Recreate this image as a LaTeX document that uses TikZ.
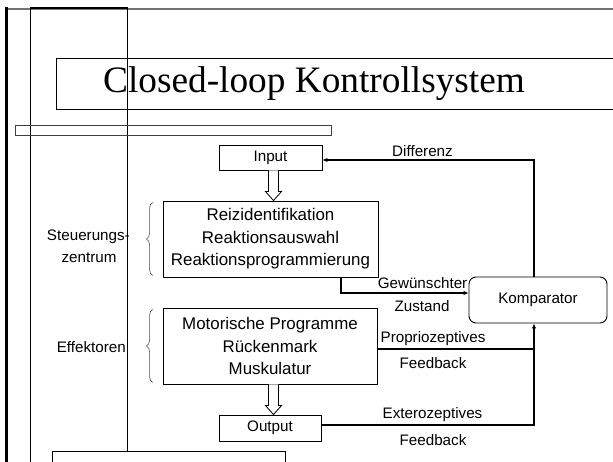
\documentclass[tikz,border=0pt]{standalone}
\usepackage{fontspec}
\setmainfont{Liberation Serif}
\setsansfont{Liberation Sans}
\usetikzlibrary{calc,arrows.meta,decorations.pathreplacing}
\begin{document}
\begin{tikzpicture}[x=1pt,y=-1pt,
  box/.style={draw,line width=0.9pt,font=\sffamily\fontsize{16.9}{22.5}\selectfont,align=center,inner sep=0pt},
  small/.style={draw,line width=0.9pt,font=\sffamily\fontsize{15.2}{18}\selectfont,inner sep=0pt},
  lab/.style={font=\sffamily\fontsize{15.2}{18}\selectfont,inner sep=0pt},
  fb/.style={line width=1.6pt},
  tip/.style={-{Latex[length=5pt,width=4.5pt]}},
  hollow/.style={draw,line width=0.8pt,fill=white},
  brc/.style={decorate,decoration={brace,amplitude=6pt},line width=0.6pt,black!70},
  frame/.style={line width=0.8pt}]
\useasboundingbox (0,0) rectangle (613,462);
\clip (0,0) rectangle (613,462);
% frame lines
\draw[line width=2.5pt,black!55] (6,9) -- (613,9);
\draw[line width=2.5pt] (30,8) -- (128,8);
\draw[line width=3pt] (6.7,7.5) -- (6.7,462);
\draw[frame] (30.5,8) -- (30.5,462);
\draw[frame] (127.5,8) -- (127.5,451);
% title box and thin boxes
\draw[line width=0.9pt] (56,58) rectangle (625,109);
\node (title) at (314,84) {\fontsize{37.3}{40}\selectfont Closed-loop Kontrollsystem};
\draw[line width=0.9pt,black!75] (15.6,125) rectangle (331,135);
\draw[line width=0.9pt] (52,451) rectangle (285,470);
% nodes
\node[small,minimum width=103pt,minimum height=25pt] (in) at (270.5,157.5) {Input};
\node[box,minimum width=215pt,minimum height=76pt] (b1) at (270.5,239) {Reizidentifikation\\Reaktionsauswahl\\Reaktionsprogrammierung};
\node[box,minimum width=214pt,minimum height=76pt] (b2) at (270,346) {Motorische Programme\\Rückenmark\\Muskulatur};
\node[small,minimum width=102pt,minimum height=26pt] (out) at (270,428) {Output};
\node[small,rounded corners=7pt,minimum width=138pt,minimum height=46pt] (kom) at (538,300) {Komparator};
% hollow arrows
\draw[hollow] let \p1=($(in.south)+(3pt,0pt)$),\p2=($(b1.north)+(3pt,0pt)$) in
  (\x1-5pt,\y1) -- (\x1-5pt,\y2+9pt) -- (\x1-8pt,\y2+9pt) -- (\x1,\y2) -- (\x1+8pt,\y2+9pt) -- (\x1+5pt,\y2+9pt) -- (\x1+5pt,\y1);
\draw[hollow] let \p1=($(b2.south)+(3.5pt,0pt)$),\p2=($(out.north)+(3.5pt,0pt)$) in
  (\x1-5pt,\y1) -- (\x1-5pt,\y2+9pt) -- (\x1-8pt,\y2+9pt) -- (\x1,\y2) -- (\x1+8pt,\y2+9pt) -- (\x1+5pt,\y2+9pt) -- (\x1+5pt,\y1);
% braces
\draw[brc] ($(b1.south west)+(-10pt,2pt)$) -- ($(b1.north west)+(-10pt,-2pt)$);
\draw[brc] ($(b2.south west)+(-10pt,2pt)$) -- ($(b2.north west)+(-10pt,-2pt)$);
% connectors
\coordinate (fbx) at ($(kom.south)+(-4pt,0pt)$);
\coordinate (dfx) at ($(kom.north)+(-4pt,0pt)$);
\draw[fb,tip] (dfx) |- ($(in.east)+(0pt,-2.5pt)$);
\draw[fb,tip] ($(b1.south)+(70.5pt,0pt)$) |- ($(kom.west)+(0pt,7pt)$);
\draw[fb] ($(b2.east)+(0pt,-3pt)$) -- ($(b2.east -| fbx)+(0pt,-3pt)$);
\draw[fb,tip] ($(out.east)+(0pt,3pt)$) -| (fbx);
% labels
\node[lab] (l1) at (422.5,151) {Differenz};
\node[lab,anchor=east] (l2) at (467.5,283) {Gewünschter};
\node[lab] (l3) at (422,306.5) {Zustand};
\node[lab] (l4) at (433,339) {Propriozeptives};
\node[lab] (l5) at (433,363) {Feedback};
\node[lab] (l6) at (432.5,415) {Exterozeptives};
\node[lab] (l7) at (433,440) {Feedback};
\node[lab,anchor=east] (l8) at (130,237) {Steuerungs-};
\node[lab] (l9) at (89,258) {zentrum};
\node[lab,anchor=east] (l10) at (126,347.5) {Effektoren};
\end{tikzpicture}
\end{document}
